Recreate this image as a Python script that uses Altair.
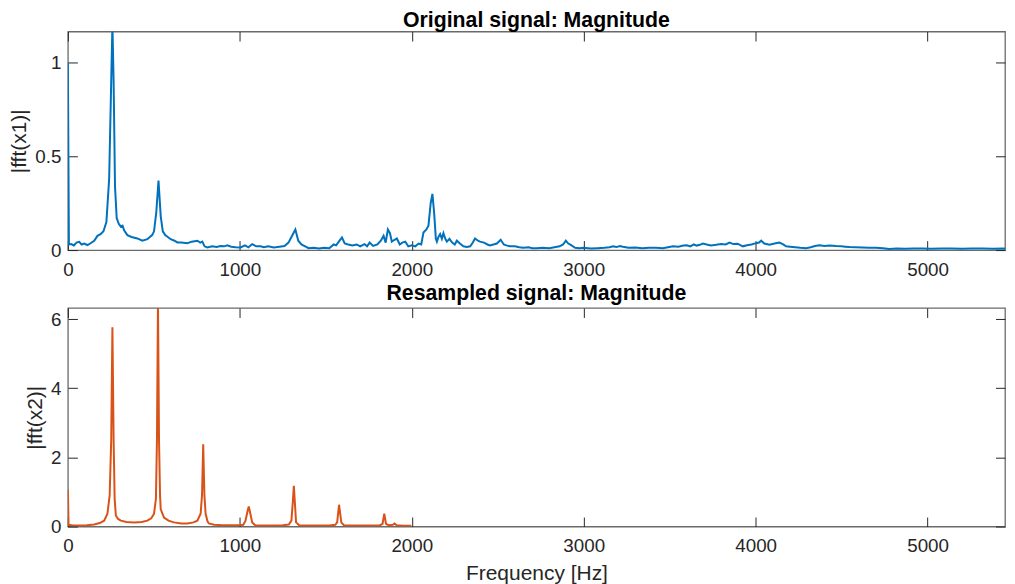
import altair as alt
import pandas as pd

# ---------------- data ----------------
freq1 = [0, 6, 20, 35, 50, 66, 80, 95, 114, 130, 153, 172, 190, 207, 224, 240, 252, 259, 266, 274,
         284, 296, 308, 318, 327, 346, 370, 404, 433, 462, 490, 501, 514, 527, 540, 552, 566, 598, 620, 637,
         660, 695, 720, 753, 770, 782, 795, 811, 840, 865, 888, 910, 927, 950, 975, 1004, 1030, 1050, 1072, 1095,
         1120, 1140, 1165, 1198, 1230, 1260, 1283, 1300, 1323, 1340, 1358, 1380, 1400, 1430, 1460, 1490, 1520, 1546, 1560, 1580,
         1594, 1610, 1630, 1655, 1680, 1700, 1725, 1740, 1755, 1775, 1800, 1820, 1836, 1848, 1861, 1873, 1884, 1900, 1913, 1930,
         1945, 1962, 1980, 2000, 2020, 2040, 2055, 2068, 2085, 2097, 2110, 2120, 2130, 2140, 2146, 2155, 2165, 2175, 2184, 2195,
         2204, 2219, 2235, 2250, 2262, 2280, 2300, 2320, 2340, 2355, 2368, 2385, 2397, 2420, 2440, 2455, 2475, 2495, 2517, 2535,
         2550, 2571, 2600, 2625, 2648, 2680, 2700, 2726, 2760, 2800, 2830, 2860, 2880, 2896, 2910, 2920, 2950, 2975, 3000, 3040,
         3080, 3120, 3150, 3170, 3190, 3210, 3228, 3260, 3300, 3340, 3380, 3420, 3460, 3490, 3519, 3550, 3580, 3600, 3620, 3640,
         3657, 3675, 3693, 3715, 3740, 3770, 3800, 3825, 3848, 3870, 3895, 3925, 3950, 3975, 4003, 4020, 4032, 4050, 4080, 4110,
         4138, 4160, 4177, 4200, 4230, 4260, 4293, 4320, 4345, 4370, 4400, 4430, 4467, 4500, 4520, 4545, 4580, 4620, 4660, 4700,
         4740, 4777, 4820, 4870, 4920, 4970, 5020, 5080, 5140, 5200, 5260, 5320, 5380, 5440, 5500]
mag1 = [1.0, 0.03, 0.032, 0.025, 0.04, 0.044, 0.03, 0.035, 0.027, 0.035, 0.05, 0.076, 0.085, 0.1, 0.15, 0.38, 0.9, 1.2, 0.9, 0.34,
        0.17, 0.14, 0.125, 0.13, 0.105, 0.08, 0.07, 0.062, 0.05, 0.058, 0.08, 0.1, 0.2, 0.37, 0.18, 0.1, 0.08, 0.058, 0.05, 0.041,
        0.04, 0.037, 0.045, 0.05, 0.04, 0.045, 0.02, 0.014, 0.02, 0.017, 0.022, 0.02, 0.025, 0.018, 0.015, 0.014, 0.025, 0.015, 0.032, 0.02,
        0.02, 0.015, 0.02, 0.014, 0.018, 0.022, 0.04, 0.07, 0.11, 0.05, 0.03, 0.02, 0.01, 0.012, 0.008, 0.012, 0.01, 0.03, 0.025, 0.05,
        0.067, 0.035, 0.03, 0.025, 0.03, 0.02, 0.032, 0.02, 0.04, 0.022, 0.03, 0.05, 0.076, 0.04, 0.11, 0.09, 0.045, 0.055, 0.062, 0.03,
        0.04, 0.045, 0.02, 0.025, 0.02, 0.035, 0.03, 0.094, 0.11, 0.13, 0.25, 0.30, 0.2, 0.06, 0.045, 0.07, 0.085, 0.06, 0.09, 0.06,
        0.045, 0.06, 0.04, 0.03, 0.05, 0.035, 0.02, 0.017, 0.02, 0.04, 0.062, 0.05, 0.045, 0.04, 0.03, 0.025, 0.03, 0.035, 0.055, 0.03,
        0.025, 0.02, 0.02, 0.015, 0.012, 0.015, 0.01, 0.01, 0.012, 0.01, 0.015, 0.02, 0.03, 0.05, 0.035, 0.03, 0.012, 0.01, 0.012, 0.008,
        0.01, 0.012, 0.015, 0.02, 0.016, 0.022, 0.018, 0.012, 0.014, 0.01, 0.013, 0.012, 0.01, 0.015, 0.02, 0.018, 0.024, 0.026, 0.02, 0.03,
        0.024, 0.028, 0.035, 0.03, 0.025, 0.028, 0.032, 0.03, 0.04, 0.032, 0.034, 0.02, 0.026, 0.03, 0.037, 0.04, 0.05, 0.035, 0.028, 0.035,
        0.04, 0.03, 0.02, 0.018, 0.015, 0.012, 0.01, 0.015, 0.022, 0.026, 0.022, 0.025, 0.022, 0.02, 0.018, 0.016, 0.015, 0.014, 0.012, 0.013,
        0.01, 0.006, 0.008, 0.007, 0.009, 0.008, 0.007, 0.009, 0.008, 0.007, 0.009, 0.008, 0.007, 0.008, 0.007]

freq2 = [0, 4, 30, 75, 110, 153, 185, 211, 230, 243, 252, 259, 266, 272, 279, 292, 308, 340, 385, 430,
         462, 485, 501, 512, 518, 524, 530, 536, 540, 559, 585, 617, 660, 695, 730, 753, 772, 780, 787, 794,
         801, 812, 820, 850, 900, 950, 1000, 1020, 1033, 1045, 1052, 1060, 1072, 1091, 1150, 1200, 1250, 1285, 1300, 1308,
         1314, 1320, 1327, 1345, 1400, 1450, 1520, 1555, 1566, 1572, 1577, 1583, 1590, 1605, 1680, 1760, 1815, 1830, 1840, 1850,
         1865, 1890, 1900, 1912, 1950, 1997]
mag2 = [1.06, 0.05, 0.03, 0.03, 0.04, 0.06, 0.1, 0.17, 0.37, 0.9, 2.5, 5.76, 2.5, 0.8, 0.32, 0.22, 0.17, 0.13, 0.12, 0.13,
        0.17, 0.24, 0.37, 0.8, 2.5, 6.5, 2.5, 0.9, 0.5, 0.26, 0.17, 0.12, 0.09, 0.09, 0.12, 0.17, 0.37, 0.9, 2.38, 0.9,
        0.37, 0.15, 0.09, 0.05, 0.04, 0.035, 0.035, 0.05, 0.17, 0.45, 0.58, 0.4, 0.12, 0.03, 0.03, 0.03, 0.035, 0.06, 0.17, 0.7,
        1.18, 0.7, 0.12, 0.04, 0.03, 0.03, 0.03, 0.05, 0.12, 0.4, 0.63, 0.4, 0.12, 0.04, 0.03, 0.03, 0.04, 0.08, 0.37, 0.08,
        0.04, 0.05, 0.09, 0.04, 0.025, 0.02]

x_ticks = [0, 1000, 2000, 3000, 4000, 5000]
y1_ticks = [0, 0.5, 1]
y2_ticks = [0, 2, 4, 6]

titles = ["Original signal: Magnitude", "Resampled signal: Magnitude"]
ytitles = ["|fft(x1)|", "|fft(x2)|"]
xtitle = "Frequency [Hz]"

# ---------------- styling ----------------
FONT = "Liberation Sans"
X_MAX = 5450          # visible part of the 0..5500 axis (the page is narrower than the figure)
W, H = 939, 219
TICK = 9.5
TXT = "#262626"


def panel(freq, mag, color, ymax, yticks, ytitle, title, xlabel, title_offset):
    df = pd.DataFrame({"f": freq, "m": mag})
    xs = alt.Scale(domain=[0, X_MAX], nice=False, zero=False)
    ys = alt.Scale(domain=[0, ymax], nice=False, zero=False)
    xaxis_kw = dict(values=x_ticks, orient="bottom", offset=-TICK, tickSize=TICK, domain=False,
                    grid=False, labelFlush=False, labelPadding=10, format="d")
    if xlabel:
        xaxis_kw.update(title=xlabel, titlePadding=7)
    else:
        xaxis_kw.update(title=None)
    main = alt.Chart(df).mark_line(color=color, strokeWidth=2, clip=True).encode(
        x=alt.X("f:Q", scale=xs, axis=alt.Axis(**xaxis_kw)),
        y=alt.Y("m:Q", scale=ys, axis=alt.Axis(values=yticks, orient="left", offset=-TICK, tickSize=TICK,
                                               domain=False, grid=False, labelFlush=False, labelPadding=7,
                                               format="~g", title=ytitle, titlePadding=5)),
    )
    ghost = alt.Chart(df).mark_line(opacity=0, clip=True).encode(
        x=alt.X("f:Q", scale=xs, axis=alt.Axis(values=x_ticks, orient="top", offset=-TICK, tickSize=TICK,
                                               labels=False, domain=False, grid=False, title=None)),
        y=alt.Y("m:Q", scale=ys, axis=alt.Axis(values=yticks, orient="right", offset=-TICK, tickSize=TICK,
                                               labels=False, domain=False, grid=False, title=None)),
    )
    return alt.layer(main, ghost).resolve_axis(x="independent", y="independent").properties(
        width=W, height=H,
        title=alt.TitleParams(title, fontSize=21.3, font=FONT, fontWeight="bold", color="#000000",
                              anchor="middle", offset=title_offset),
    )


top = panel(freq1, mag1, "#0072BD", 1.165, y1_ticks, ytitles[0], titles[0], None, 0)
bottom = panel(freq2, mag2, "#D95319", 6.32, y2_ticks, ytitles[1], titles[1], xtitle, 3)

chart = alt.vconcat(top, bottom, spacing=2).properties(
    padding={"left": 0, "top": 0, "right": 0, "bottom": 0},
    background="#ffffff",
).configure_view(
    stroke="#6a6a6a", strokeWidth=1.3,
).configure_axis(
    labelFont=FONT, labelFontSize=18.8, labelColor=TXT,
    titleFont=FONT, titleFontSize=21, titleColor=TXT, titleFontWeight="normal",
    tickColor="#262626", tickWidth=1,
)

chart.save("out.html", embed_options={"renderer": "svg", "actions": False})
